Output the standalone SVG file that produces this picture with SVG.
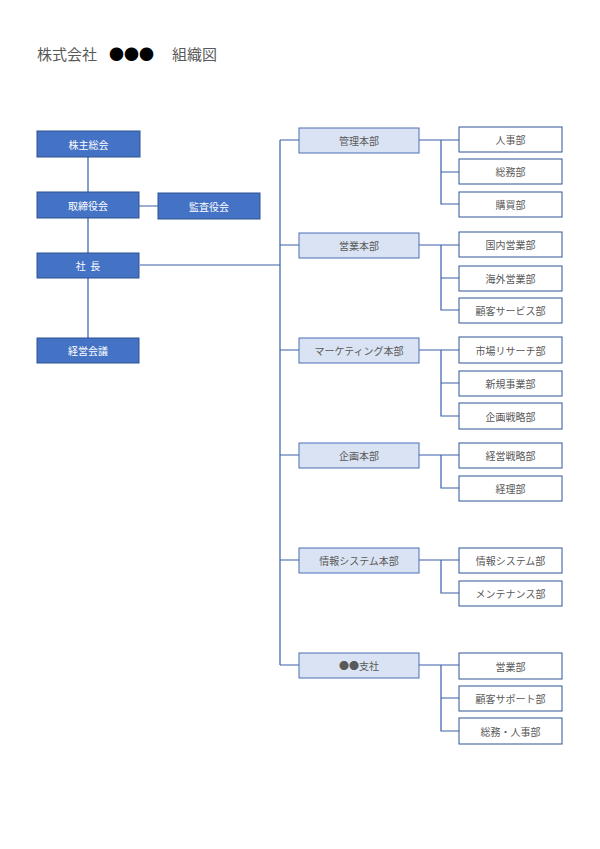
<svg xmlns="http://www.w3.org/2000/svg" width="600" height="849" viewBox="0 0 600 849">
<style>
text{font-family:"Noto Sans CJK JP","Noto Sans CJK SC",sans-serif;font-size:10px;text-anchor:middle;dominant-baseline:central}
.top rect{fill:#4472C4;stroke:#2F528F;stroke-width:1}
.top text{fill:#ffffff}
.mid rect{fill:#DAE3F3;stroke:#4A6FB5;stroke-width:1}
.mid text{fill:#595959}
.sub rect{fill:#ffffff;stroke:#2F5597;stroke-width:1}
.sub text{fill:#595959}
#connectors path{fill:none;stroke:#3A5FA8;stroke-width:1.2}
.title{font-size:15px;text-anchor:start;fill:#595959;dominant-baseline:auto}
</style>
<rect width="600" height="849" fill="#ffffff"/>
<text class="title" x="37" y="60">株式会社<tspan x="109" fill="#000000">●●●</tspan><tspan x="172">組織図</tspan></text>
<g id="connectors">
<path d="M88 157V192M88 218V253M88 278V338M139 206H158M140 265H280"/>
<path d="M280 140V665M280 140H299M280 245H299M280 350H299M280 455H299M280 560H299M280 665H299"/>
<path d="M419 140H459M441 140V204H459M441 172H459"/>
<path d="M419 245H459M441 245V310H459M441 278H459"/>
<path d="M419 350H459M441 350V416H459M441 383H459"/>
<path d="M419 455H459M441 455V488H459"/>
<path d="M419 560H459M441 560V593H459"/>
<path d="M419 665H459M441 665V731H459M441 698H459"/>
</g>
<g id="n-kabunushi" class="top"><rect x="37" y="131" width="103" height="26"/><text x="88.5" y="144">株主総会</text></g>
<g id="n-torishimari" class="top"><rect x="37" y="192" width="102" height="26"/><text x="88" y="205">取締役会</text></g>
<g id="n-kansa" class="top"><rect x="158" y="193" width="102" height="26"/><text x="209" y="206">監査役会</text></g>
<g id="n-shacho" class="top"><rect x="37" y="253" width="102" height="25"/><text x="88" y="265.5">社&#160;&#160;長</text></g>
<g id="n-keiei" class="top"><rect x="37" y="338" width="102" height="25"/><text x="88" y="350.5">経営会議</text></g>

<g id="n-kanri" class="mid"><rect x="299" y="128" width="120" height="25"/><text x="359" y="140.5">管理本部</text></g>
<g id="n-eigyo" class="mid"><rect x="299" y="233" width="120" height="25"/><text x="359" y="245.5">営業本部</text></g>
<g id="n-marketing" class="mid"><rect x="299" y="338" width="120" height="25"/><text x="359" y="350.5">マーケティング本部</text></g>
<g id="n-kikaku" class="mid"><rect x="299" y="443" width="120" height="25"/><text x="359" y="455.5">企画本部</text></g>
<g id="n-joho" class="mid"><rect x="299" y="548" width="120" height="25"/><text x="359" y="560.5">情報システム本部</text></g>
<g id="n-shisha" class="mid"><rect x="299" y="653" width="120" height="25"/><text x="359" y="665.5">●●支社</text></g>

<g id="n-jinji" class="sub"><rect x="459" y="127" width="103" height="25"/><text x="510.5" y="139.5">人事部</text></g>
<g id="n-somu" class="sub"><rect x="459" y="159" width="103" height="25"/><text x="510.5" y="171.5">総務部</text></g>
<g id="n-kobai" class="sub"><rect x="459" y="192" width="103" height="25"/><text x="510.5" y="204.5">購買部</text></g>
<g id="n-kokunai" class="sub"><rect x="459" y="232" width="103" height="25"/><text x="510.5" y="244.5">国内営業部</text></g>
<g id="n-kaigai" class="sub"><rect x="459" y="266" width="103" height="25"/><text x="510.5" y="278.5">海外営業部</text></g>
<g id="n-kokyaku" class="sub"><rect x="459" y="298" width="103" height="25"/><text x="510.5" y="310.5">顧客サービス部</text></g>
<g id="n-shijo" class="sub"><rect x="459" y="337" width="103" height="26"/><text x="510.5" y="350">市場リサーチ部</text></g>
<g id="n-shinki" class="sub"><rect x="459" y="371" width="103" height="25"/><text x="510.5" y="383.5">新規事業部</text></g>
<g id="n-kikakusenryaku" class="sub"><rect x="459" y="403" width="103" height="26"/><text x="510.5" y="416">企画戦略部</text></g>
<g id="n-keieisenryaku" class="sub"><rect x="459" y="443" width="103" height="25"/><text x="510.5" y="455.5">経営戦略部</text></g>
<g id="n-keiri" class="sub"><rect x="459" y="476" width="103" height="25"/><text x="510.5" y="488.5">経理部</text></g>
<g id="n-johosys" class="sub"><rect x="459" y="548" width="103" height="25"/><text x="510.5" y="560.5">情報システム部</text></g>
<g id="n-maint" class="sub"><rect x="459" y="581" width="103" height="25"/><text x="510.5" y="593.5">メンテナンス部</text></g>
<g id="n-eigyobu" class="sub"><rect x="459" y="653" width="103" height="26"/><text x="510.5" y="666">営業部</text></g>
<g id="n-support" class="sub"><rect x="459" y="686" width="103" height="25"/><text x="510.5" y="698.5">顧客サポート部</text></g>
<g id="n-somujinji" class="sub"><rect x="459" y="718" width="103" height="26"/><text x="510.5" y="731">総務・人事部</text></g>
</svg>
